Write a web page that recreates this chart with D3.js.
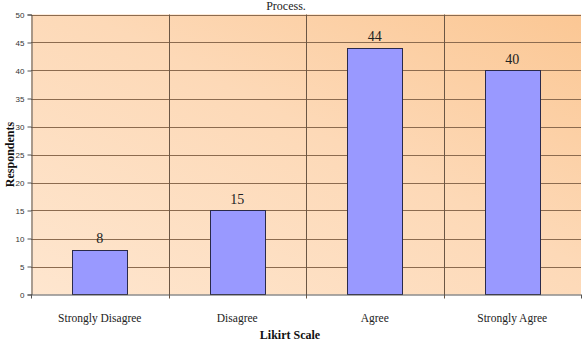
<!DOCTYPE html>
<html>
<head>
<meta charset="utf-8">
<script src="https://cdn.jsdelivr.net/npm/d3@7"></script>
<style>
  body { margin: 0; background: #fff; }
  svg { display: block; }
</style>
</head>
<body>
<div id="chart"></div>
<script>
const categories = ["Strongly Disagree", "Disagree", "Agree", "Strongly Agree"];
const respondents = [8, 15, 44, 40];
const yTicks = [0, 5, 10, 15, 20, 25, 30, 35, 40, 45, 50];

const width = 583;
const height = 343;
const margin = { top: 14.5, right: 2, bottom: 48.5, left: 31 };
const SERIF = "'Liberation Serif', 'Times New Roman', serif";
const SANS = "'Liberation Sans', Arial, sans-serif";

const svg = d3.select("#chart")
    .append("svg")
    .attr("width", width)
    .attr("height", height);

const grad = svg.append("defs").append("linearGradient")
    .attr("id", "bg")
    .attr("x1", "0%").attr("y1", "100%")
    .attr("x2", "100%").attr("y2", "0%");
grad.append("stop").attr("offset", "0%").attr("stop-color", "#fee6cf");
grad.append("stop").attr("offset", "55%").attr("stop-color", "#fdd9b7");
grad.append("stop").attr("offset", "100%").attr("stop-color", "#fbc794");

const x = d3.scaleBand()
    .domain(categories)
    .range([margin.left, width - margin.right])
    .paddingInner(0.6)
    .paddingOuter(0.3);

const y = d3.scaleLinear()
    .domain([0, 50])
    .range([height - margin.bottom, margin.top]);

// plot background
svg.append("rect")
    .attr("x", margin.left)
    .attr("y", y(50))
    .attr("width", width - margin.right - margin.left)
    .attr("height", y(0) - y(50))
    .attr("fill", "url(#bg)");

// horizontal grid
svg.append("g")
    .selectAll("line")
    .data(yTicks.filter(d => d > 0))
    .enter()
    .append("line")
    .attr("x1", margin.left)
    .attr("x2", width - margin.right)
    .attr("y1", d => Math.round(y(d)) + 0.5)
    .attr("y2", d => Math.round(y(d)) + 0.5)
    .attr("stroke", "#8c6b4f")
    .attr("stroke-width", 1);

// vertical category boundaries
const boundaryX = categories.slice(1).map((c, i) => (x(categories[i]) + x.bandwidth() + x(c)) / 2);
svg.append("g")
    .selectAll("line")
    .data(boundaryX)
    .enter()
    .append("line")
    .attr("x1", d => Math.round(d) + 0.5)
    .attr("x2", d => Math.round(d) + 0.5)
    .attr("y1", y(50))
    .attr("y2", y(0) + 4)
    .attr("stroke", "#6b5644")
    .attr("stroke-width", 1);

// bars
svg.append("g")
    .selectAll("rect")
    .data(respondents)
    .enter()
    .append("rect")
    .attr("x", (d, i) => Math.round(x(categories[i])) + 0.5)
    .attr("y", d => Math.round(y(d)) + 0.5)
    .attr("width", x.bandwidth())
    .attr("height", d => y(0) - Math.round(y(d)) - 0.5)
    .attr("fill", "#9999ff")
    .attr("stroke", "#2a2a4a")
    .attr("stroke-width", 1);

// value labels
svg.append("g")
    .selectAll("text")
    .data(respondents)
    .enter()
    .append("text")
    .attr("x", (d, i) => x(categories[i]) + x.bandwidth() / 2)
    .attr("y", d => y(d) - 7)
    .attr("text-anchor", "middle")
    .style("font-family", SERIF)
    .style("font-size", "14px")
    .attr("fill", "#222")
    .text(d => d);

// y axis
const yAxis = svg.append("g")
    .attr("transform", `translate(${margin.left + 0.5},0)`)
    .call(d3.axisLeft(y).tickValues(yTicks).tickSize(4).tickPadding(3));
yAxis.select(".domain").attr("stroke", "#555");
yAxis.selectAll(".tick line").attr("stroke", "#555");
yAxis.selectAll(".tick text")
    .style("font-family", SANS)
    .style("font-size", "8px")
    .attr("fill", "#333");

// x axis
svg.append("line")
    .attr("x1", margin.left)
    .attr("x2", width - margin.right)
    .attr("y1", y(0) + 0.5)
    .attr("y2", y(0) + 0.5)
    .attr("stroke", "#555");
svg.append("g")
    .selectAll("line")
    .data([margin.left, width - margin.right])
    .enter()
    .append("line")
    .attr("x1", d => Math.round(d) + 0.5)
    .attr("x2", d => Math.round(d) + 0.5)
    .attr("y1", y(0))
    .attr("y2", y(0) + 4)
    .attr("stroke", "#555");

svg.append("g")
    .selectAll("text")
    .data(categories)
    .enter()
    .append("text")
    .attr("x", d => x(d) + x.bandwidth() / 2)
    .attr("y", 322)
    .attr("text-anchor", "middle")
    .style("font-family", SERIF)
    .style("font-size", "11.5px")
    .attr("fill", "#222")
    .text(d => d);

// axis titles
svg.append("text")
    .attr("x", 290)
    .attr("y", 339)
    .attr("text-anchor", "middle")
    .style("font-family", SERIF)
    .style("font-weight", "bold")
    .style("font-size", "12px")
    .attr("fill", "#111")
    .text("Likirt Scale");

svg.append("text")
    .attr("transform", `translate(14,${(y(0) + y(50)) / 2}) rotate(-90)`)
    .attr("text-anchor", "middle")
    .style("font-family", SERIF)
    .style("font-weight", "bold")
    .style("font-size", "12px")
    .attr("fill", "#111")
    .text("Respondents");

// chart title (cut off at the top in the original, kept fully visible here)
svg.append("text")
    .attr("x", 286)
    .attr("y", 10)
    .attr("text-anchor", "middle")
    .style("font-family", SERIF)
    .style("font-size", "12px")
    .attr("fill", "#222")
    .text("Process.");
</script>
</body>
</html>
